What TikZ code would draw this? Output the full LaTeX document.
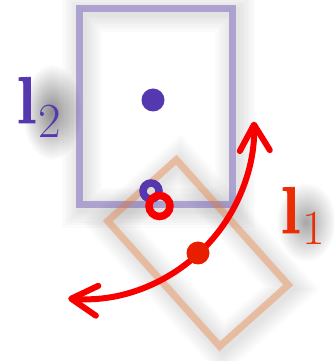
\documentclass[tikz,border=0pt]{standalone}
\usepackage{fontspec}
\setmainfont{Latin Modern Roman}
\usetikzlibrary{arrows.meta,calc}
\definecolor{lpurple}{RGB}{85,55,175}
\definecolor{lorange}{RGB}{235,120,50}
\definecolor{lred}{RGB}{248,0,0}
\definecolor{ldot}{RGB}{232,30,0}
\definecolor{ltext}{RGB}{235,45,5}
\tikzset{barbtip/.tip={Straight Barb[length=26pt,width=30pt,round]}}
\begin{document}
\begin{tikzpicture}[x=1pt,y=1pt,
  haloline/.style={draw=black, opacity=0.014, line width=#1},
  linkbox/.style={rectangle, inner sep=0pt, outer sep=0pt, line width=7pt, draw opacity=0.38},
  soliddot/.style={circle, inner sep=0pt, outer sep=0pt, minimum size=23pt},
  ringdot/.style={circle, inner sep=0pt, outer sep=0pt, line width=7.5pt},
  lab/.style={inner sep=0pt, anchor=base west}]
\useasboundingbox (0,0) rectangle (333,361);
% soft shadows behind labels
\shade[inner color=black!45, outer color=white] (52,249) ellipse [x radius=30, y radius=48];
\shade[inner color=black!35, outer color=white] (306,139) ellipse [x radius=30, y radius=40];
% soft shadows of the boxes
\foreach \w in {10,15,20,25,30,35,40} {
  \draw[haloline=\w pt] (82,153) rectangle (235,349);
  \draw[haloline=\w pt, shift={(201,105)}, rotate=-48.2] (-84,-46) rectangle (84,46);
}
% boxes
\node[linkbox, draw=lpurple, minimum width=153pt, minimum height=196pt] (box2) at (155.5,254) {};
\node[linkbox, draw=lorange, minimum width=168pt, minimum height=92pt, rotate=-48.2] (box1) at (198,108) {};
% joints
\node[soliddot, fill=lpurple] (c2) at (153,261) {};
\node[ringdot, draw=lpurple, minimum size=16pt] (j2) at (151,170) {};
\node[ringdot, draw=lred, minimum size=21pt] (j1) at (159.5,155) {};
% rotation arrow
\coordinate (arcc) at (82,234);
\coordinate (arcs) at ($(arcc)+(-94.6:172)$);
\draw[lred, line width=6pt, line cap=round, barbtip-barbtip] (arcs) arc[start angle=-94.6, end angle=1.8, radius=172];
\node[soliddot, fill=ldot] (c1) at (198,108) {};
% labels
\node[lab, text=lpurple] (l2) at (16,238) {\fontsize{66}{70}\selectfont{\bfseries\addfontfeatures{FakeBold=1.2}l}\kern2pt\raisebox{-15pt}{\fontsize{49}{52}\selectfont 2}};
\node[lab, text=ltext] (l1) at (280,128) {\fontsize{66}{70}\selectfont{\bfseries\addfontfeatures{FakeBold=1.2}l}\kern2pt\raisebox{-12pt}{\fontsize{49}{52}\selectfont 1}};
\end{tikzpicture}
\end{document}
